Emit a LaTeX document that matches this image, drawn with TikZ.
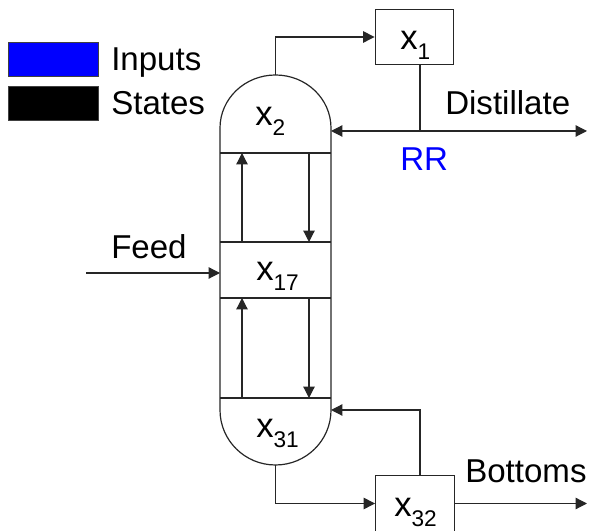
\documentclass[tikz,border=0pt]{standalone}
\usepackage{fontspec}
\setmainfont{Liberation Sans}
\usetikzlibrary{arrows.meta}
\newcommand{\statevar}[1]{{\fontsize{26}{26}\selectfont x}\raisebox{-7.5pt}{\fontsize{17}{17}\selectfont #1}}
\tikzset{
    line/.style={line width=0.9pt, black!85},
    flow/.style={line, -{Triangle[length=8.5pt, width=8.5pt]}},
    label/.style={inner sep=0pt, anchor=base west, font=\fontsize{24.8}{24.8}\selectfont},
    drum/.style={draw, line width=0.9pt, black!85, minimum width=59pt, minimum height=41.5pt, inner sep=0pt},
    legend/.style={draw=black!75, line width=0.6pt, minimum width=67.5pt, minimum height=25.5pt, inner sep=0pt}
}
\begin{document}
\begin{tikzpicture}[x=0.75pt, y=0.75pt]
        \useasboundingbox (0,0) rectangle (589,531);
        % Draw legend
        \node[legend, fill=blue] (inputsbox) at (53,472) {};
        \node[legend, fill=black] (statesbox) at (53,427.5) {};
        \node[label] (inputs) at (111,460) {Inputs};
        \node[label] (states) at (111,416) {States};
        % Draw column
        \draw[line] (220,133) -- (220,403) arc[start angle=180, end angle=0, x radius=55.5, y radius=53] -- (331,121)
            arc[start angle=0, end angle=-180, x radius=55.5, y radius=55] -- (220,133);
        \coordinate (topout) at (275.5,456);
        \coordinate (botout) at (275.5,66);
        \coordinate (trayA) at (220,378);
        \coordinate (trayB) at (220,289);
        \coordinate (trayC) at (220,233);
        \coordinate (trayD) at (220,133);
        \coordinate (wallA) at (331,378);
        \coordinate (wallB) at (331,289);
        \coordinate (wallC) at (331,233);
        \coordinate (wallD) at (331,133);
        \draw[line] (trayA) -- (wallA);
        \draw[line] (trayB) -- (wallB);
        \draw[line] (trayC) -- (wallC);
        \draw[line] (trayD) -- (wallD);
        % Draw vapour and liquid arrows
        \draw[flow] (trayB -| 242,0) -- (trayA -| 242,0);
        \draw[flow] (trayA -| 309,0) -- (trayB -| 309,0);
        \draw[flow] (trayD -| 242,0) -- (trayC -| 242,0);
        \draw[flow] (trayC -| 309,0) -- (trayD -| 309,0);
        % Draw stage labels
        \node[label] (stagetop) at (255,405) {\statevar{2}};
        \node[label] (stagefeed) at (256,250) {\statevar{17}};
        \node[label] (stagebot) at (256,93) {\statevar{31}};
        % Draw condenser and reboiler
        \node[drum] (condenser) at (414.5,494) {};
        \node[drum] (reboiler) at (415,27.5) {};
        \node[label] (condlabel) at (400,481) {\statevar{1}};
        \node[label] (reblabel) at (394,14) {\statevar{32}};
        \draw[flow] (topout) |- (condenser.west);
        \draw[flow] (botout) |- (reboiler.west);
        % Draw reflux and distillate
        \coordinate (refluxjoin) at (420,400);
        \coordinate (refluxin) at (331,400);
        \coordinate (distout) at (587,400);
        \draw[line] (condenser.south -| refluxjoin) -- (refluxjoin);
        \draw[flow] (refluxjoin) -- (refluxin);
        \draw[flow] (refluxjoin) -- (distout);
        \node[label] (distillate) at (445,416) {Distillate};
        \node[label, text=blue] (reflux) at (400,360) {RR};
        % Draw boilup and bottoms
        \coordinate (boilupjoin) at (420,121);
        \coordinate (boilupin) at (331,121);
        \coordinate (botoutlet) at (587,27.5);
        \draw[flow] (reboiler.north -| boilupjoin) -- (boilupjoin) -- (boilupin);
        \draw[flow] (reboiler.east) -- (botoutlet);
        \node[label] (bottoms) at (465,48) {Bottoms};
        % Draw feed
        \coordinate (feedstart) at (86,258);
        \coordinate (feedin) at (220,258);
        \draw[flow] (feedstart) -- (feedin);
        \node[label] (feed) at (111,272) {Feed};
    \end{tikzpicture}
\end{document}
